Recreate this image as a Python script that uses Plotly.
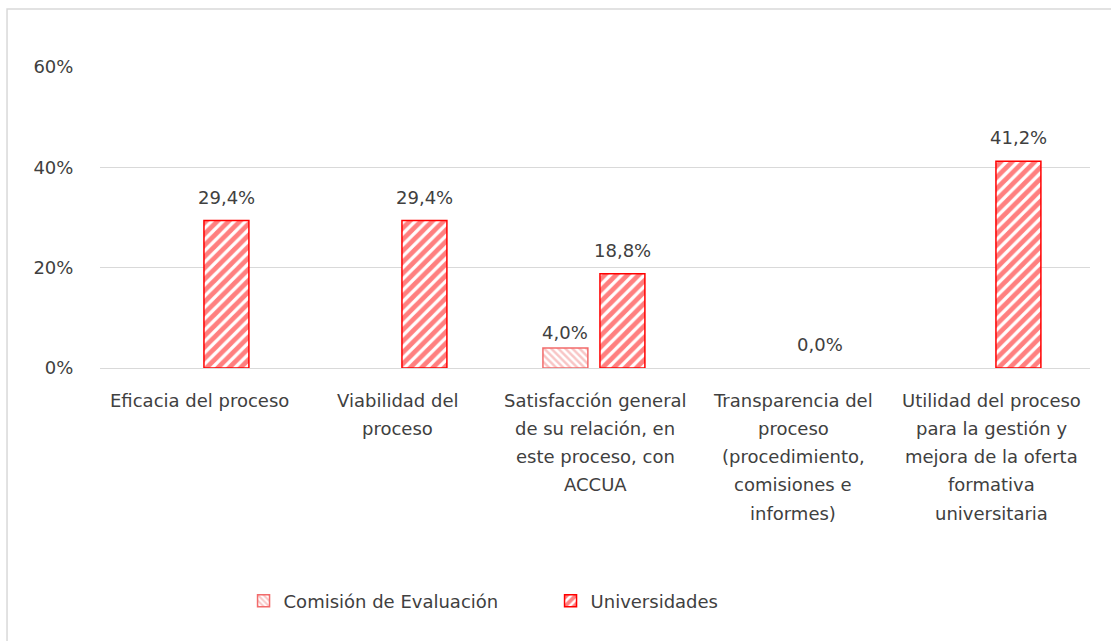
import plotly.graph_objects as go

categories = [
    "Eficacia del proceso",
    "Viabilidad del<br>proceso",
    "Satisfacción general<br>de su relación, en<br>este proceso, con<br>ACCUA",
    "Transparencia del<br>proceso<br>(procedimiento,<br>comisiones e<br>informes)",
    "Utilidad del proceso<br>para la gestión y<br>mejora de la oferta<br>formativa<br>universitaria",
]
comision = [None, None, 4.0, None, None]
universidades = [29.4, 29.4, 18.8, 0.0, 41.2]
y_ticks = [0, 20, 40, 60]
y_tick_labels = ["0%", "20%", "40%", "60%"]

FONT = "DejaVu Sans"
FS = 18
TXT = "#404040"
BW = 0.227
OFF_C = -0.263
OFF_U = 0.025
CAT_PX = 198.0
LABEL_TOP = 32
LINE_H = 28.3

def fmt(v):
    return f"{v:.1f}".replace(".", ",") + "%"

def line_widths(vals):
    return [1.5 if (v is not None and v > 0) else 0 for v in vals]

fig = go.Figure()
fig.add_trace(go.Bar(
    name="Comisión de Evaluación", x=categories, y=comision,
    width=BW, offset=OFF_C,
    marker=dict(color="white",
                line=dict(color="#f26b6b", width=1.5),
                pattern=dict(shape="\\", fgcolor="#f28c8c", bgcolor="white", size=5, solidity=0.5)),
))
fig.add_trace(go.Bar(
    name="Universidades", x=categories, y=universidades,
    width=BW, offset=OFF_U,
    marker=dict(color="white",
                line=dict(color="#ff0000", width=line_widths(universidades)),
                pattern=dict(shape="/", fgcolor="#ff0000", bgcolor="white", size=8, solidity=0.6)),
))

annotations = []
# value labels
for series, off, ysh in ((comision, OFF_C, 3), (universidades, OFF_U, 11)):
    for c, v in zip(categories, series):
        if v is None:
            continue
        annotations.append(dict(
            x=c, y=v, xref="x", yref="y", text=fmt(v), showarrow=False,
            xshift=(off + BW / 2) * CAT_PX, yanchor="bottom", yshift=ysh,
            font=dict(family=FONT, size=FS, color=TXT),
        ))
# category labels (one annotation per line for wider line spacing)
for c in categories:
    for i, line in enumerate(c.split("<br>")):
        annotations.append(dict(
            x=c, y=0, xref="x", yref="y", text=line, showarrow=False,
            yanchor="middle", yshift=-(LABEL_TOP + i * LINE_H),
            font=dict(family=FONT, size=FS, color=TXT),
        ))

fig.update_layout(
    width=1111, height=641,
    margin=dict(l=100, r=21, t=67, b=273),
    paper_bgcolor="white", plot_bgcolor="white",
    barmode="overlay",
    font=dict(family=FONT, size=FS, color=TXT),
    showlegend=True,
    legend=dict(orientation="h", x=0.145, xanchor="left", y=-0.774, yanchor="middle",
                entrywidth=262, entrywidthmode="pixels",
                font=dict(family=FONT, size=FS, color=TXT), itemwidth=30),
    annotations=annotations,
    shapes=[dict(type="rect", xref="paper", yref="paper",
                 x0=-0.0939, x1=1.03, y0=-0.95, y1=1.1927,
                 line=dict(color="#d9d9d9", width=1.5), fillcolor="rgba(0,0,0,0)", layer="below")],
)
fig.update_xaxes(
    type="category", showgrid=False, showline=False, zeroline=False,
    showticklabels=False, ticks="",
)
fig.update_yaxes(
    range=[0, 60], tickmode="array", tickvals=y_ticks, ticktext=y_tick_labels,
    showgrid=True, gridcolor="#d9d9d9", gridwidth=1,
    zeroline=True, zerolinecolor="#d9d9d9", zerolinewidth=1,
    showline=False, ticks="outside", ticklen=22, tickcolor="rgba(0,0,0,0)",
    tickfont=dict(family=FONT, size=FS, color=TXT),
)

fig.write_html("out.html", config={"displayModeBar": False},
               post_script="document.body.style.margin='0';")
